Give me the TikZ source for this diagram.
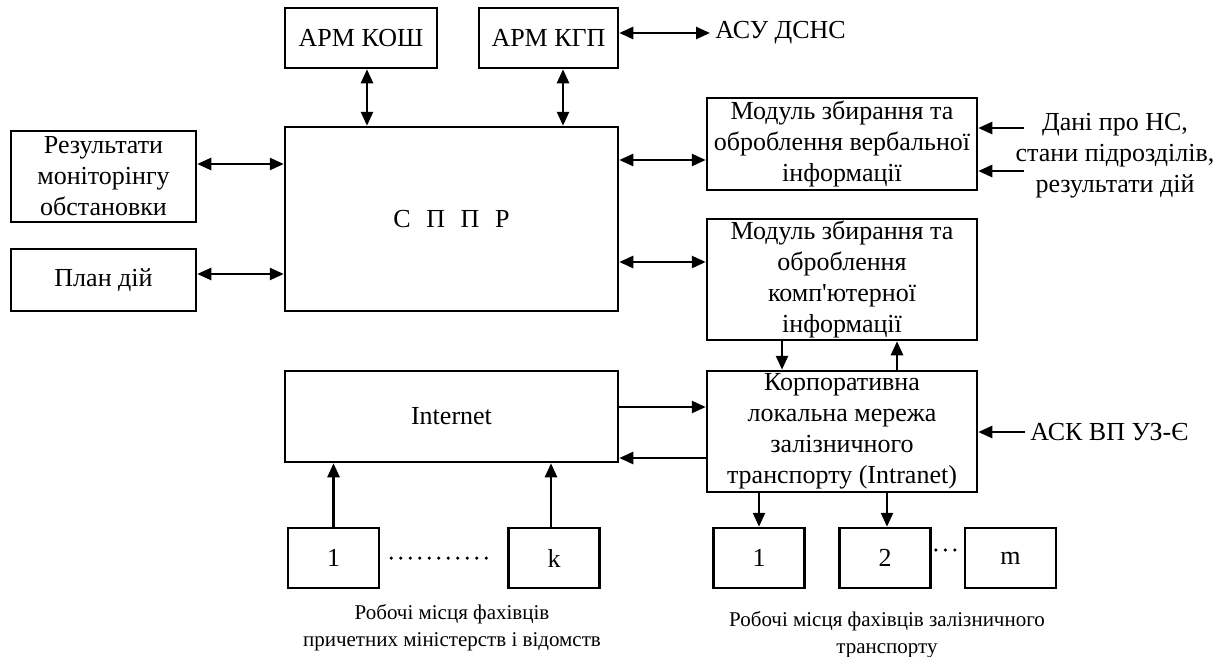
\documentclass[tikz,border=0pt]{standalone}
\usepackage{fontspec}
\setmainfont{Liberation Serif}
\usetikzlibrary{arrows.meta}

\begin{document}
\begin{tikzpicture}[x=1pt, y=-1pt, line width=2.5pt, >={Triangle[length=14pt, width=12pt]},
    blok/.style={draw, align=center, inner sep=0pt, font=\fontsize{26}{31}\selectfont},
    napys/.style={align=center, inner sep=4pt, font=\fontsize{26}{31}\selectfont},
    pidpys/.style={align=center, inner sep=0pt, font=\fontsize{21}{27}\selectfont},
    krapky/.style={line cap=round, line width=3.5pt, dash pattern=on 0pt off 9.5pt}]
      \useasboundingbox (0,0) rectangle (1225,656);

      \node[blok, minimum width=152, minimum height=60] (kosh) at (361,38) {АРМ КОШ};
      \node[blok, minimum width=139, minimum height=60] (kgp) at (548.5,38) {АРМ КГП};
      \node[blok, minimum width=333, minimum height=184] (sppr) at (451.5,219) {С\hspace{0.6em}П\hspace{0.6em}П\hspace{0.6em}Р};
      \node[blok, minimum width=185, minimum height=91] (rez) at (103.5,176.5) {Результати\\моніторінгу\\обстановки};
      \node[blok, minimum width=185, minimum height=62] (plan) at (103.5,280) {План дій};
      \node[blok, minimum width=270, minimum height=92] (verb) at (842,144) {Модуль збирання та\\оброблення вербальної\\інформації};
      \node[blok, minimum width=270, minimum height=121] (komp) at (842,279.5) {Модуль збирання та\\оброблення\\комп\textquotesingle ютерної\\інформації};
      \node[blok, minimum width=270, minimum height=121] (korp) at (842,431.5) {Корпоративна\\локальна мережа\\залізничного\\транспорту (Intranet)};
      \node[blok, minimum width=333, minimum height=91] (inet) at (451.5,416.5) {Internet};
      \node[blok, minimum width=91, minimum height=60] (i1) at (333.5,558) {1};
      \node[blok, minimum width=91, minimum height=60] (ik) at (554,558) {k};
      \node[blok, minimum width=91, minimum height=60] (j1) at (759,558) {1};
      \node[blok, minimum width=91, minimum height=60] (j2) at (885,558) {2};
      \node[blok, minimum width=91, minimum height=60] (jm) at (1010.5,558) {m};

      \node[napys, anchor=west] (asu) at (710,33) {АСУ ДСНС};
      \node[napys] (dani) at (1115,156) {Дані про НС,\\стани підрозділів,\\результати дій};
      \node[napys, anchor=west] (ask) at (1025,432) {АСК ВП УЗ-Є};
      \node[pidpys] (mlev) at (452,628) {Робочі місця фахівців\\причетних міністерств і відомств};
      \node[pidpys] (mprav) at (887,635) {Робочі місця фахівців залізничного\\транспорту};
      \coordinate (d1) at (1024,128);
      \coordinate (d2) at (1024,171);

      \draw[<->] ([xshift=6pt]kosh.south) -- ([xshift=6pt]kosh.south |- sppr.north);
      \draw[<->] ([xshift=14.5pt]kgp.south) -- ([xshift=14.5pt]kgp.south |- sppr.north);
      \draw[<->] (kgp.east |- asu.west) -- (asu.west);
      \draw[<->] ([yshift=12.5pt]rez.east) -- ([yshift=12.5pt]rez.east -| sppr.west);
      \draw[<->] ([yshift=6pt]plan.east) -- ([yshift=6pt]plan.east -| sppr.west);
      \draw[<->] ([yshift=-16pt]verb.west -| sppr.east) -- ([yshift=-16pt]verb.west);
      \draw[<->] ([yshift=17.5pt]komp.west -| sppr.east) -- ([yshift=17.5pt]komp.west);
      \draw[->] (d1) -- (d1 -| verb.east);
      \draw[->] (d2) -- (d2 -| verb.east);
      \draw[->] ([xshift=-60pt]komp.south) -- ([xshift=-60pt]komp.south |- korp.north);
      \draw[->] ([xshift=55pt]korp.north) -- ([xshift=55pt]korp.north |- komp.south);
      \draw[->] ([yshift=9.5pt]inet.east) -- ([yshift=9.5pt]inet.east -| korp.west);
      \draw[->] ([yshift=-26.5pt]korp.west) -- ([yshift=-26.5pt]korp.west -| inet.east);
      \draw[->] (ask.west) -- (ask.west -| korp.east);
      \draw[->] (i1.north) -- (i1.north |- inet.south);
      \draw[->] ([xshift=-3pt]ik.north) -- ([xshift=-3pt]ik.north |- inet.south);
      \draw[->] (j1.north |- korp.south) -- (j1.north);
      \draw[->] ([xshift=2pt]j2.north |- korp.south) -- ([xshift=2pt]j2.north);
      \draw[krapky] ([xshift=11pt]i1.east) -- ([xshift=-13pt]ik.west);
      \draw[krapky] ([xshift=4pt, yshift=8pt]j2.east) -- ([xshift=-6pt, yshift=8pt]jm.west);
    \end{tikzpicture}
\end{document}
